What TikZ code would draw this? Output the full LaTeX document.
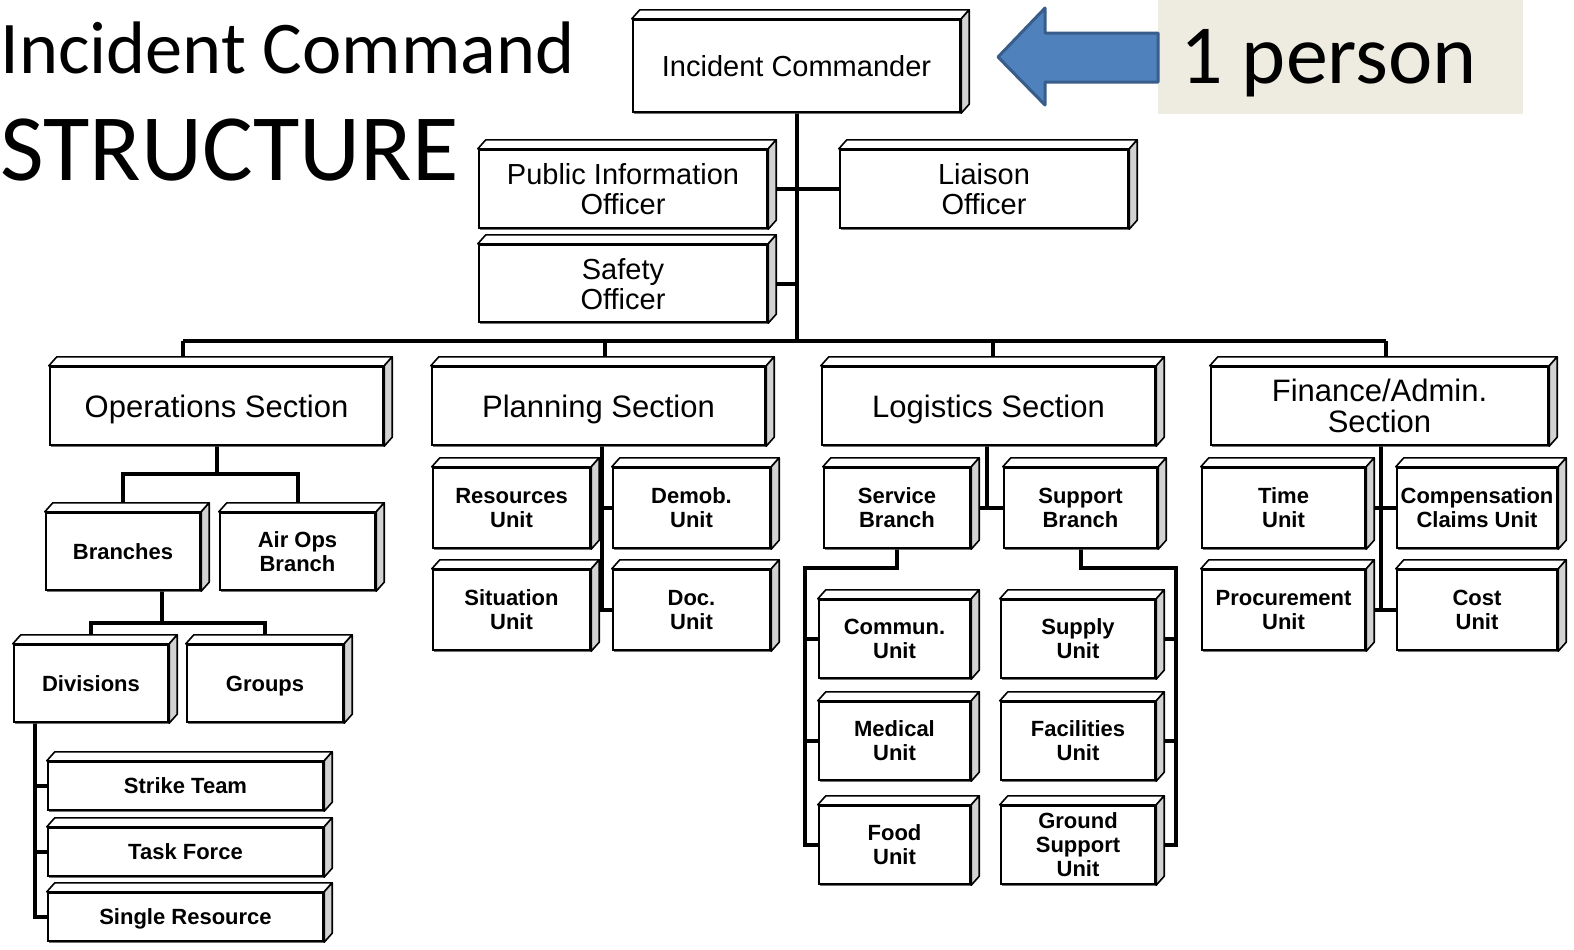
\documentclass[tikz,border=0pt]{standalone}
\usepackage{fontspec}
\setmainfont{Liberation Sans}
\newfontfamily\titlefont{Carlito}
\usetikzlibrary{calc,shadows,backgrounds}

\definecolor{arrowblue}{HTML}{4F81BD}
\definecolor{arrowedge}{HTML}{385D8A}
\definecolor{notebg}{HTML}{EEECE1}

\tikzset{
	box/.style={draw, line width=1.2pt, fill=white, align=center, inner sep=0pt, text depth=0pt,
		drop shadow={shadow xshift=0.6pt, shadow yshift=-1.2pt, fill=black!70, opacity=0.8}},
	unitbox/.style={box, font=\bfseries\fontsize{11}{12}\selectfont},
	secbox/.style={box, font=\fontsize{15.5}{15.5}\selectfont},
	offbox/.style={box, font=\fontsize{14.5}{15}\selectfont},
	face/.style={draw, line width=0.8pt, fill=white, line join=round},
	link/.style={draw, line width=2pt},
	title/.style={anchor=base west, inner sep=0pt},
}

% 3D box: [style] name, x1, y1, x2, y2 (front face, pixel units), text
\newcommand{\orgbox}[7][unitbox]{%
	\node[#1, minimum width={(#5-#3)*0.5pt}, minimum height={(#6-#4)*0.5pt}] (#2) at ({(#3+#5)/2},{(#4+#6)/2}) {#7};
	\draw[face] (#2.north west) -- ++(8,-9) -- ([shift={(8,-9)}]#2.north east) -- (#2.north east) -- cycle; %top face
	\draw[face, fill=gray!35] (#2.north east) -- ++(8,-9) -- ([shift={(8,-9)}]#2.south east) -- (#2.south east) -- cycle; %side face
}

\begin{document}
\begin{tikzpicture}[x=0.5pt, y=-0.5pt]
	\useasboundingbox (0,0) rectangle (1574,949);
	
	%Title and note%
	%===========================================================
	\node[title, font=\titlefont\fontsize{37.2}{37}\selectfont] (title1) at (0,73) {Incident Command};
	\node[title, font=\titlefont\fontsize{47.5}{47}\selectfont] (title2) at (0,180) {STRUCTURE};
	\fill[notebg] (1158,0) rectangle (1523,114);
	\node[title, font=\titlefont\fontsize{42}{42}\selectfont] (person) at (1180,83) {1 person};
	\draw[arrowedge, fill=arrowblue, line width=1.5pt, line join=round] (998,57) -- (1045,8) -- (1045,33) -- (1158,33) -- (1158,82) -- (1045,82) -- (1045,105) -- cycle;
	
	%Command staff%
	%===========================================================
	\orgbox[offbox]{ic}{633}{20}{960}{112}{Incident Commander}
	\orgbox[offbox]{pio}{479}{150}{767}{228}{Public Information\\Officer}
	\orgbox[offbox]{lno}{840}{150}{1128}{228}{Liaison\\Officer}
	\orgbox[offbox]{safe}{479}{245}{767}{322}{Safety\\Officer}
	
	%Sections%
	%===========================================================
	\orgbox[secbox]{ops}{50}{367}{383}{445}{Operations Section}
	\orgbox[secbox]{plan}{432}{367}{765}{445}{Planning Section}
	\orgbox[secbox]{log}{822}{367}{1155}{445}{Logistics Section}
	\orgbox[secbox]{fin}{1211}{367}{1548}{445}{Finance/Admin.\\Section}
	
	%Operations
	\orgbox{br}{46}{513}{200}{590}{Branches}
	\orgbox{air}{220}{513}{375}{590}{Air Ops\\Branch}
	\orgbox{div}{14}{645}{168}{722}{Divisions}
	\orgbox{grp}{187}{645}{343}{722}{Groups}
	\orgbox{st}{48}{762}{323}{810}{Strike Team}
	\orgbox{tf}{48}{828}{323}{876}{Task Force}
	\orgbox{sr}{48}{893}{323}{941}{Single Resource}
	%Planning
	\orgbox{res}{433}{468}{590}{548}{Resources\\Unit}
	\orgbox{dem}{613}{468}{770}{548}{Demob.\\Unit}
	\orgbox{sit}{433}{570}{590}{650}{Situation\\Unit}
	\orgbox{doc}{613}{570}{770}{650}{Doc.\\Unit}
	%Logistics
	\orgbox{svc}{824}{468}{970}{548}{Service\\Branch}
	\orgbox{sup}{1004}{468}{1157}{548}{Support\\Branch}
	\orgbox{com}{819}{600}{970}{678}{Commun.\\Unit}
	\orgbox{med}{819}{702}{970}{780}{Medical\\Unit}
	\orgbox{food}{819}{806}{970}{884}{Food\\Unit}
	\orgbox{spl}{1001}{600}{1155}{678}{Supply\\Unit}
	\orgbox{fac}{1001}{702}{1155}{780}{Facilities\\Unit}
	\orgbox{gsu}{1001}{806}{1155}{884}{Ground\\Support\\Unit}
	%Finance
	\orgbox{time}{1202}{468}{1365}{548}{Time\\Unit}
	\orgbox{comp}{1397}{468}{1557}{548}{Compensation\\Claims Unit}
	\orgbox{proc}{1202}{570}{1365}{650}{Procurement\\Unit}
	\orgbox{cost}{1397}{570}{1557}{650}{Cost\\Unit}
	
	%Connectors%
	%===========================================================
	\begin{pgfonlayer}{background}
		\coordinate (bus) at (800,341);
		\coordinate (busL) at (183,341);
		\coordinate (busR) at (1386,341);
		\draw[link] (ic.south) -- (ic.south |- bus);
		\draw[link] (pio.east) -- (lno.west);
		\draw[link] (safe.east) -- (safe.east -| ic.south);
		\draw[link] (busL) -- (busR);
		\foreach \sec/\x in {ops/183,plan/605,log/993,fin/1386}{
			\coordinate (drop) at (\x,341);
			\draw[link] (drop) -- (drop |- \sec.north);
		}
		
		%operations
		\draw[link] (ops.south) -- ++(0,28) coordinate (opsj);
		\draw[link] (br.north) |- (opsj) -| (air.north);
		\draw[link] ([xshift=19.5pt]br.south) -- ++(0,32) coordinate (brj);
		\draw[link] (div.north) |- (brj) -| (grp.north);
		\draw[link] ([xshift=-28pt]div.south) |- (sr.west);
		\draw[link] (st.west) -- ++(-13,0);
		\draw[link] (tf.west) -- ++(-13,0);
		
		%planning
		\coordinate (planx) at ($(res.east)!0.5!(dem.west)$);
		\draw[link] (plan.south -| planx) -- (sit.east -| planx);
		\draw[link] (res.east) -- (dem.west);
		\draw[link] (sit.east) -- (doc.west);
		
		%logistics
		\coordinate (logx) at ($(svc.east)!0.5!(sup.west)$);
		\draw[link] (log.south -| logx) -- (svc.east -| logx);
		\draw[link] (svc.east) -- (sup.west);
		\draw[link] (svc.south) -- ++(0,19) -| ([xshift=-6.5pt]food.west) -- (food.west);
		\draw[link] (com.west) -- ++(-13,0);
		\draw[link] (med.west) -- ++(-13,0);
		\draw[link] (sup.south) -- ++(0,19) -| ([xshift=10pt]gsu.east) -- (gsu.east);
		\draw[link] (spl.east) -- ++(20,0);
		\draw[link] (fac.east) -- ++(20,0);
		
		%finance
		\coordinate (finx) at ($(time.east)!0.5!(comp.west)$);
		\draw[link] (fin.south -| finx) -- (proc.east -| finx);
		\draw[link] (time.east) -- (comp.west);
		\draw[link] (proc.east) -- (cost.west);
	\end{pgfonlayer}
\end{tikzpicture}
\end{document}
